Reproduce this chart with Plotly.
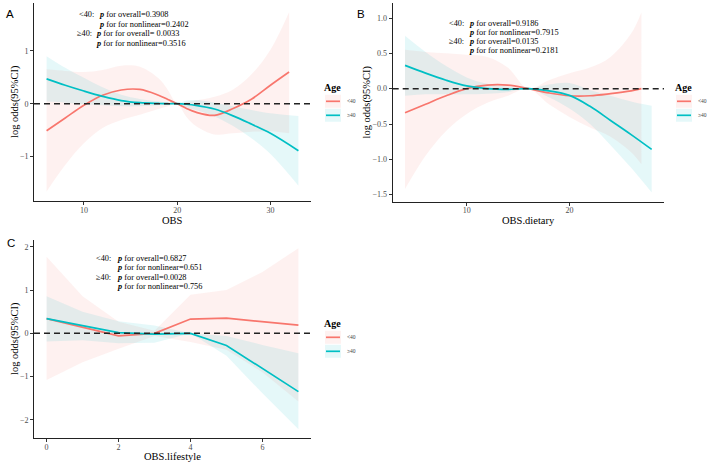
import plotly.graph_objects as go

W, H = 708, 463
PINK = "#F8766D"
CYAN = "#00BFC4"
PINK_FILL = "rgba(248,118,109,0.10)"
CYAN_FILL = "rgba(0,191,196,0.10)"
SERIF = "Liberation Serif"
SANS = "Liberation Sans"

# ---------------- Panel A : OBS ----------------
a_x_lt40 = [6, 8, 10, 12, 14, 16, 18, 19, 20, 21, 22, 24, 26, 28, 30, 32]
a_y_lt40 = [-0.51, -0.27, -0.03, 0.16, 0.26, 0.27, 0.16, 0.08, 0.0, -0.09, -0.16, -0.22, -0.09, 0.09, 0.35, 0.60]
a_hi_lt40 = [0.65, 0.62, 0.60, 0.64, 0.72, 0.70, 0.48, 0.26, 0.0, 0.03, 0.06, 0.13, 0.27, 0.56, 1.02, 1.73]
a_lo_lt40 = [-1.66, -1.16, -0.75, -0.46, -0.31, -0.21, -0.10, -0.05, 0.0, -0.25, -0.42, -0.58, -0.56, -0.53, -0.52, -0.56]

a_x_ge40 = [6, 8, 10, 12, 14, 16, 18, 19, 20, 21, 22, 24, 26, 28, 30, 33]
a_y_ge40 = [0.47, 0.35, 0.24, 0.14, 0.06, 0.02, 0.005, 0.0, 0.0, -0.01, -0.03, -0.10, -0.23, -0.39, -0.56, -0.89]
a_hi_ge40 = [0.90, 0.68, 0.49, 0.31, 0.17, 0.09, 0.04, 0.02, 0.0, 0.06, 0.07, 0.02, -0.05, -0.12, -0.18, -0.23]
a_lo_ge40 = [0.04, 0.02, -0.01, -0.03, -0.05, -0.05, -0.03, -0.02, 0.0, -0.07, -0.12, -0.24, -0.42, -0.66, -0.95, -1.55]

# ---------------- Panel B : OBS.dietary ----------------
b_x_lt40 = [4, 6, 8, 10, 12, 14, 16, 18, 20, 22, 24, 26, 27]
b_y_lt40 = [-0.34, -0.22, -0.10, 0.0, 0.05, 0.05, 0.0, -0.06, -0.10, -0.10, -0.07, -0.03, 0.0]
b_hi_lt40 = [0.55, 0.52, 0.50, 0.48, 0.45, 0.30, 0.0, 0.12, 0.22, 0.30, 0.45, 0.78, 1.08]
b_lo_lt40 = [-1.42, -0.95, -0.60, -0.36, -0.20, -0.10, 0.0, -0.22, -0.40, -0.55, -0.68, -0.90, -1.07]

b_x_ge40 = [4, 6, 8, 10, 12, 14, 16, 18, 20, 22, 24, 26, 28]
b_y_ge40 = [0.33, 0.22, 0.12, 0.04, 0.0, -0.01, 0.0, -0.03, -0.095, -0.25, -0.45, -0.65, -0.86]
b_hi_ge40 = [0.75, 0.52, 0.32, 0.16, 0.07, 0.03, 0.0, 0.06, 0.08, -0.02, -0.10, -0.18, -0.24]
b_lo_ge40 = [-0.10, -0.08, -0.08, -0.08, -0.07, -0.05, 0.0, -0.12, -0.28, -0.50, -0.80, -1.12, -1.47]

# ---------------- Panel C : OBS.lifestyle ----------------
c_x = [0, 1, 2, 3, 4, 5, 6, 7]
c_y_lt40 = [0.34, 0.14, -0.06, 0.0, 0.33, 0.35, 0.27, 0.19]
c_hi_lt40 = [1.77, 0.86, 0.27, 0.06, 0.89, 1.00, 1.42, 1.97]
c_lo_lt40 = [-1.08, -0.67, -0.36, -0.06, -0.20, -0.38, -0.90, -1.58]
c_y_ge40 = [0.34, 0.17, 0.015, -0.02, 0.0, -0.28, -0.81, -1.35]
c_hi_ge40 = [0.86, 0.50, 0.28, 0.18, 0.0, -0.06, -0.27, -0.46]
c_lo_ge40 = [-0.19, -0.16, -0.23, -0.22, 0.0, -0.52, -1.39, -2.22]

# ---------------- texts ----------------
groups = ["<40", "≥40"]
a_stats = ["<b><i>p</i></b> for overall=0.3908", "<b><i>p</i></b> for for nonlinear=0.2402",
           "<b><i>p</i></b> for for overall= 0.0033", "<b><i>p</i></b> for for nonlinear=0.3516"]
b_stats = ["<b><i>p</i></b> for overall=0.9186", "<b><i>p</i></b> for for nonlinear=0.7915",
           "<b><i>p</i></b> for overall=0.0135", "<b><i>p</i></b> for for nonlinear=0.2181"]
c_stats = ["<b><i>p</i></b> for overall=0.6827", "<b><i>p</i></b> for for nonlinear=0.651",
           "<b><i>p</i></b> for overall=0.0028", "<b><i>p</i></b> for for nonlinear=0.756"]

a_xticks = [10, 20, 30]
a_yticks = [-1, 0, 1]
b_xticks = [10, 20]
b_yticks = [-1.5, -1.0, -0.5, 0.0, 0.5, 1.0]
c_xticks = [0, 2, 4, 6]
c_yticks = [-2, -1, 0, 1, 2]


def px(xp):
    return xp / W


def py(yp):
    return 1 - yp / H


fig = go.Figure()


def add_panel(xa, ya, x1, y1, lo1, hi1, x2, y2, lo2, hi2, shape):
    for xs, lo, hi, fill in [(x1, lo1, hi1, PINK_FILL), (x2, lo2, hi2, CYAN_FILL)]:
        fig.add_trace(go.Scatter(x=xs, y=lo, mode="lines", line=dict(width=0, shape=shape),
                                 hoverinfo="skip", showlegend=False, xaxis=xa, yaxis=ya))
        fig.add_trace(go.Scatter(x=xs, y=hi, mode="lines", line=dict(width=0, shape=shape),
                                 fill="tonexty", fillcolor=fill, hoverinfo="skip",
                                 showlegend=False, xaxis=xa, yaxis=ya))
    for xs, ys, col in [(x1, y1, PINK), (x2, y2, CYAN)]:
        fig.add_trace(go.Scatter(x=xs, y=ys, mode="lines", line=dict(color=col, width=1.7, shape=shape),
                                 showlegend=False, xaxis=xa, yaxis=ya))


add_panel("x", "y", a_x_lt40, a_y_lt40, a_lo_lt40, a_hi_lt40, a_x_ge40, a_y_ge40, a_lo_ge40, a_hi_ge40, "spline")
add_panel("x2", "y2", b_x_lt40, b_y_lt40, b_lo_lt40, b_hi_lt40, b_x_ge40, b_y_ge40, b_lo_ge40, b_hi_ge40, "spline")
add_panel("x3", "y3", c_x, c_y_lt40, c_lo_lt40, c_hi_lt40, c_x, c_y_ge40, c_lo_ge40, c_hi_ge40, "linear")

tickfont = dict(family=SERIF, size=8, color="#4d4d4d")
axis_common = dict(showgrid=False, zeroline=False, showline=True, linecolor="#222", linewidth=1,
                   ticks="outside", ticklen=3, tickwidth=1, tickcolor="#333", tickfont=tickfont)
xaxis_extra = dict(ticklabelstandoff=-2)

fig.update_layout(
    width=W, height=H, margin=dict(l=0, r=0, t=0, b=0),
    paper_bgcolor="white", plot_bgcolor="white", showlegend=False,
    xaxis=dict(domain=[px(34), px(311)], range=[4.65, 34.35], tickvals=a_xticks, anchor="y",
               **axis_common, **xaxis_extra),
    yaxis=dict(domain=[py(201), py(3)], range=[-1.84, 1.905], tickvals=a_yticks, anchor="x", **axis_common),
    xaxis2=dict(domain=[px(392.7), px(664)], range=[2.8, 29.2], tickvals=b_xticks, anchor="y2",
                **axis_common, **xaxis_extra),
    yaxis2=dict(domain=[py(201.7), py(3)], range=[-1.6, 1.213], tickvals=b_yticks, tickformat=".1f",
                anchor="x2", **axis_common),
    xaxis3=dict(domain=[px(34), px(311)], range=[-0.35, 7.35], tickvals=c_xticks, anchor="y3",
                **axis_common, **xaxis_extra),
    yaxis3=dict(domain=[py(438.3), py(240)], range=[-2.43, 2.16], tickvals=c_yticks, anchor="x3", **axis_common),
)

# reference dashed line at 0
for xr, yr in [("x domain", "y"), ("x2 domain", "y2"), ("x3 domain", "y3")]:
    fig.add_shape(type="line", xref=xr, yref=yr, x0=0, x1=1, y0=0, y1=0,
                  line=dict(color="#222", width=1.6, dash="6px,4px"), layer="above")

ann = []


def text(x, y, t, size, family=SERIF, color="black", xanchor="left", angle=0):
    ann.append(dict(x=px(x), y=py(y), xref="paper", yref="paper", text=t, showarrow=False,
                    xanchor=xanchor, yanchor="middle", textangle=angle,
                    font=dict(family=family, size=size, color=color)))


# panel letters
text(10, 14, "A", 11.5, SANS, xanchor="center")
text(361, 14, "B", 11.5, SANS, xanchor="center")
text(11, 243, "C", 11.5, SANS, xanchor="center")

# axis titles
text(172.5, 220.5, "OBS", 10.5, xanchor="center")
text(528, 220.5, "OBS.dietary", 10.5, xanchor="center")
text(172.5, 456, "OBS.lifestyle", 10.5, xanchor="center")
text(15, 102, "log odds(95%CI)", 10.5, xanchor="center", angle=-90)
text(366.5, 102, "log odds(95%CI)", 10.5, xanchor="center", angle=-90)
text(15, 339, "log odds(95%CI)", 10.5, xanchor="center", angle=-90)

# statistics text
lab_lt, lab_ge = "&lt;40:", "≥40:"
for (gx, sx, ys, stats) in [
    ((76.5, 75.0), (96.7, 96.7, 94.3, 94.3), (15.0, 24.3, 33.7, 43.2), a_stats),
    ((446.7, 447.0), (466.7, 466.7, 466.7, 466.7), (23.3, 32.4, 41.7, 50.8), b_stats),
    ((94.3, 94.3), (115, 115, 115, 115), (258.3, 267.6, 277.1, 286.3), c_stats),
]:
    text(gx[0], ys[0], lab_lt, 8.3)
    text(gx[1], ys[2], lab_ge, 8.3)
    for i in range(4):
        text(sx[i], ys[i], stats[i], 8.3)

# legends (Age)
for lx, ty in [(325, 87.3), (676, 87.3), (325, 323.3)]:
    text(lx + 7.5, ty, "<b>Age</b>", 10, xanchor="center")
    for k, (col, fill) in enumerate([(PINK, PINK_FILL), (CYAN, CYAN_FILL)]):
        cy = ty + 14 + 14 * k
        fig.add_shape(type="rect", xref="paper", yref="paper", x0=px(lx), x1=px(lx + 16),
                      y0=py(cy - 6.5), y1=py(cy + 6.5), fillcolor=fill, line=dict(width=0))
        fig.add_shape(type="line", xref="paper", yref="paper", x0=px(lx + 1), x1=px(lx + 15),
                      y0=py(cy), y1=py(cy), line=dict(color=col, width=1.7))
        text(lx + 19.5, cy, groups[k].replace("<", "&lt;"), 5.5, color="#444")

fig.update_layout(annotations=ann)
fig.write_html("out.html", config={"displayModeBar": False},
               post_script="document.body.style.margin='0';")
